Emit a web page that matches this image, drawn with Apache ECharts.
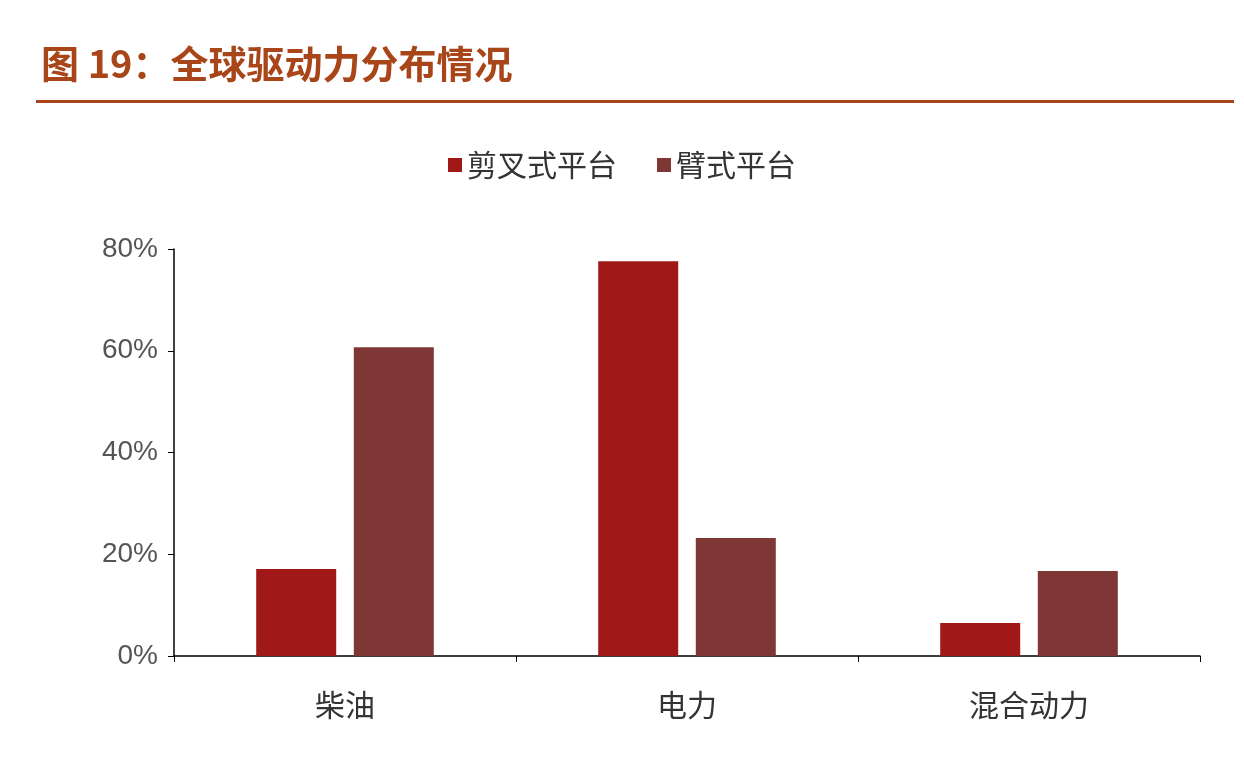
<!DOCTYPE html>
<html><head><meta charset="utf-8">
<script src="https://cdn.jsdelivr.net/npm/echarts@6/dist/echarts.min.js"></script>
<style>html,body{margin:0;background:#fff}#c{width:1244px;height:774px}</style>
</head><body><div id="c"></div>
<script>
const categories = ["柴油", "电力", "混合动力"]
const scissorLift = [17.1, 77.6, 6.5]
const boomLift = [60.7, 23.2, 16.7]
const yTicks = [0, 20, 40, 60, 80]

const chart = echarts.init(document.getElementById("c"), null, { renderer: "canvas" })
chart.setOption({
  animation: false,
  title: {
    text: "图 19：全球驱动力分布情况",
    left: 36, top: 40,
    textStyle: { color: "#a8461a", fontSize: 38, fontWeight: "bold", fontFamily: "Noto Sans CJK SC" }
  },
  graphic: [{
    type: "rect", shape: { x: 36, y: 100, width: 1198, height: 3 },
    style: { fill: "#a8461a" }
  }],
  legend: {
    top: 145, left: "center", itemWidth: 14, itemHeight: 14, itemGap: 40,
    icon: "rect",
    textStyle: { fontSize: 30, color: "#333", fontFamily: "Noto Sans CJK SC" },
    data: ["剪叉式平台", "臂式平台"]
  },
  grid: { left: 174, right: 44, top: 249, bottom: 118 },
  xAxis: {
    type: "category", data: categories,
    axisLine: { lineStyle: { color: "#000", width: 1.5 } },
    axisTick: { show: true, alignWithLabel: false, length: 6, lineStyle: { color: "#000" } },
    axisLabel: { fontSize: 30, color: "#333", margin: 34, fontFamily: "Noto Sans CJK SC" }
  },
  yAxis: {
    type: "value", min: 0, max: 80, interval: 20,
    splitLine: { show: false },
    axisLine: { show: true, lineStyle: { color: "#000", width: 1.5 } },
    axisTick: { show: true, length: 6, inside: false, lineStyle: { color: "#000" } },
    axisLabel: {
      fontSize: 28, color: "#555", margin: 16, fontFamily: "Liberation Sans",
      formatter: v => yTicks.includes(v) ? v + "%" : ""
    }
  },
  series: [
    { name: "剪叉式平台", type: "bar", data: scissorLift, barWidth: 80, barGap: "22%",
      itemStyle: { color: "#a01818" } },
    { name: "臂式平台", type: "bar", data: boomLift, barWidth: 80,
      itemStyle: { color: "#7f3735" } }
  ]
})
</script></body></html>
